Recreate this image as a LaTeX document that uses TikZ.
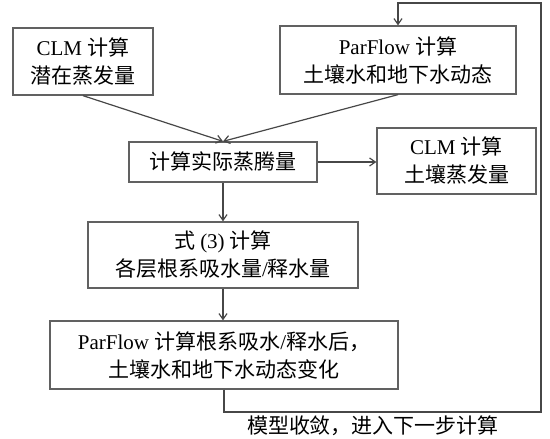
\documentclass[tikz,border=0pt]{standalone}
\usepackage{fontspec}
\setmainfont{Liberation Serif}
\newfontfamily\cjkfont{Noto Sans CJK SC}
\newcommand{\zh}[1]{{\cjkfont #1}}
\usepackage{tikz}
\usetikzlibrary{shapes, arrows.meta, positioning}
\tikzstyle{bloque} = [draw=black!62, line width=1.3pt, rectangle, inner sep=0pt, align=center, font={\fontsize{21}{28}\selectfont}]
\tikzstyle{flecha} = [draw=black!72, line width=1.2pt, -{Straight Barb[angle=70:7pt]}]
\tikzstyle{nota} = [inner sep=0pt, font={\fontsize{21}{28}\selectfont}]

\begin{document}
\begin{tikzpicture}[x=1pt, y=1pt]
	\useasboundingbox (0,0) rectangle (550,-439);
	\node [bloque, minimum width=140, minimum height=67] (clm) at (83,-61.5) {CLM \zh{计算}\\\zh{潜在蒸发量}};
	\node [bloque, minimum width=236, minimum height=68] (parflow) at (398,-60) {ParFlow \zh{计算}\\\zh{土壤水和地下水动态}};
	\node [bloque, minimum width=188, minimum height=40] (real) at (223,-162) {\zh{计算实际蒸腾量}};
	\node [bloque, minimum width=159, minimum height=66] (suelo) at (456.5,-161) {CLM \zh{计算}\\\zh{土壤蒸发量}};
	\node [bloque, minimum width=270, minimum height=66] (raiz) at (223,-255) {\zh{式} (3) \zh{计算}\\\zh{各层根系吸水量}/\zh{释水量}};
	\node [bloque, minimum width=348, minimum height=68] (cambio) at (224,-355) {ParFlow \zh{计算根系吸水}/\zh{释水后，}\\\zh{土壤水和地下水动态变化}};
	\coordinate (vueltaB) at (541,-412);
	\coordinate (vueltaA) at (541,-3);
	\node [nota] (converge) at (373,-426) {\zh{模型收敛，进入下一步计算}};

	\draw [flecha] (clm.south) -- (real.north);
	\draw [flecha] (parflow.south) -- (real.north);
	\draw [flecha] (real.east) -- (suelo.west |- real.east);
	\draw [flecha] (real.south) -- (raiz.north);
	\draw [flecha] (raiz.south) -- (raiz.south |- cambio.north);
	\draw [flecha] (cambio.south) |- (vueltaB) -- (vueltaA) -| (parflow.north);
\end{tikzpicture}
\end{document}
